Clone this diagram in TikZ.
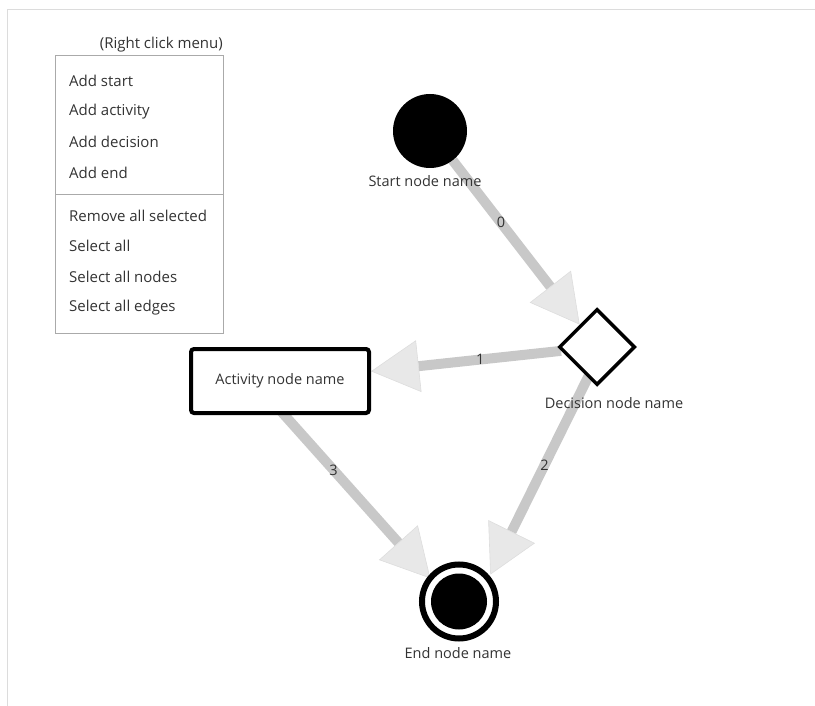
\documentclass[tikz,border=0pt]{standalone}
\usepackage{fontspec}
\setmainfont{Open Sans}
\usetikzlibrary{arrows.meta,shapes.geometric}
\pgfdeclarelayer{edges}
\pgfsetlayers{edges,main}
\definecolor{txt}{HTML}{333333}
\definecolor{edgegray}{HTML}{C8C8C8}
\definecolor{headfill}{HTML}{E8E8E8}
\definecolor{headline}{HTML}{DDDDDD}
\definecolor{frame}{HTML}{DCDCDC}
\definecolor{menuline}{HTML}{AAAAAA}
\tikzset{
  menuitem/.style={anchor=west, inner sep=0pt, text=txt, font=\fontsize{15}{17}\selectfont},
  nodelabel/.style={inner sep=0pt, text=txt, font=\fontsize{14.5}{17}\selectfont},
  edgelabel/.style={inner sep=0pt, text=txt, font=\fontsize{14.5}{17}\selectfont},
  flow/.style={draw=edgegray, line width=10pt,
    -{Triangle[length=48pt,width=52pt,line width=0.6pt,color=headline,fill=headfill]}},
}
\begin{document}
\begin{tikzpicture}[x=1pt,y=-1pt]
\useasboundingbox (0,0) rectangle (815,706);
% frame
\draw[frame, line width=1.5pt] (7.5,706) -- (7.5,9.5) -- (815,9.5);
% menu
\node[text=txt, font=\fontsize{15}{17}\selectfont, anchor=east, inner sep=0pt] (menutitle) at (223,45) {(Right click menu)};
\draw[menuline, line width=0.8pt] (55,55) rectangle (223,333);
\draw[menuline, line width=0.8pt] (55,194) -- (223,194);
\node[menuitem] (m1) at (69,81) {Add start};
\node[menuitem] (m2) at (69,112) {Add activity};
\node[menuitem] (m3) at (69,142) {Add decision};
\node[menuitem] (m4) at (69,173) {Add end};
\node[menuitem] (m5) at (69,216) {Remove all selected};
\node[menuitem] (m6) at (69,246) {Select all};
\node[menuitem] (m7) at (69,277) {Select all nodes};
\node[menuitem] (m8) at (69,308) {Select all edges};
% nodes
\node[circle, fill=black, minimum size=74pt, inner sep=0pt] (start) at (430,131) {};
\node[nodelabel] (startlbl) at (425,181) {Start node name};
\node[diamond, draw=black, line width=3.5pt, fill=white, minimum width=76pt, minimum height=76pt, inner sep=0pt] (dec) at (597,347) {};
\node[nodelabel] (declbl) at (614,403) {Decision node name};
\node[draw=black, line width=4pt, rounded corners=3pt, fill=white, minimum width=178pt, minimum height=64pt, inner sep=0pt, text=txt, font=\fontsize{14.5}{17}\selectfont] (act) at (280,381) {Activity node name};
\node[circle, draw=black, line width=6pt, fill=white, minimum size=74pt, inner sep=0pt, outer sep=0pt] (end) at (459,601.5) {};
\node[circle, fill=black, minimum size=56pt, inner sep=0pt] (endcore) at (459,601.5) {};
\node[nodelabel] (endlbl) at (458,653) {End node name};
% edges
\begin{pgfonlayer}{edges}
\draw[flow] (start) -- node[edgelabel, pos=0.38] (l0) {0} (dec);
\draw[flow] (dec) -- node[edgelabel, pos=0.425] (l1) {1} (act);
\draw[flow, shorten >=30pt] ([xshift=6pt]dec.center) -- node[edgelabel, pos=0.464] (l2) {2} ([xshift=18pt]end.center);
\draw[flow, shorten >=31pt] ([xshift=-26pt]act.center) -- node[edgelabel, pos=0.404] (l3) {3} ([xshift=-8pt]end.center);
\end{pgfonlayer}
\end{tikzpicture}
\end{document}
